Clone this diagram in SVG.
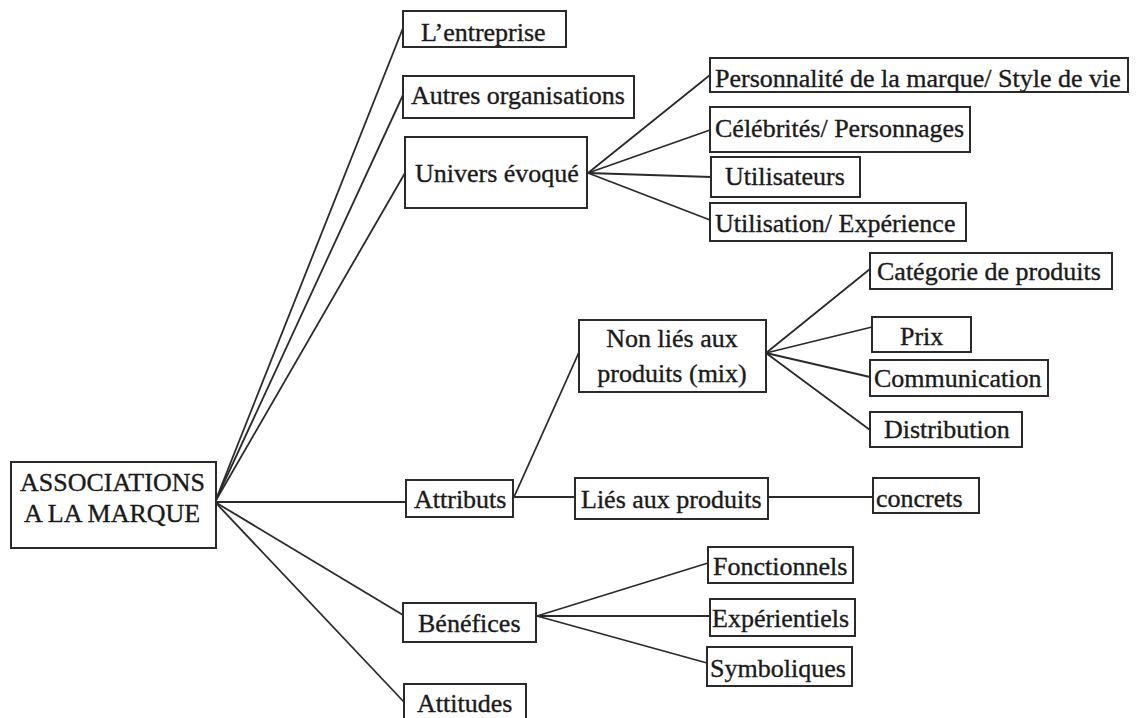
<svg xmlns="http://www.w3.org/2000/svg" width="1140" height="718" viewBox="0 0 1140 718">
<style>
.b{fill:#fff;stroke:#2a2a2a;stroke-width:2}
.t{font-family:"Liberation Serif","Times New Roman",serif;font-size:26px;fill:#1a1a1a;stroke:#1a1a1a;stroke-width:0.35}
.c{text-anchor:middle}
#connectors line{stroke:#2a2a2a;stroke-width:1.8}
</style>
<rect width="1140" height="718" fill="#fff"/>
<g id="connectors">
<line x1="215" y1="502" x2="403" y2="28"/>
<line x1="215" y1="502" x2="403" y2="95"/>
<line x1="215" y1="502" x2="405" y2="173"/>
<line x1="215" y1="502" x2="406" y2="502"/>
<line x1="215" y1="502" x2="403" y2="615"/>
<line x1="215" y1="502" x2="404" y2="702"/>
<line x1="588" y1="173" x2="710" y2="75"/>
<line x1="588" y1="173" x2="710" y2="130"/>
<line x1="588" y1="173" x2="711" y2="177"/>
<line x1="588" y1="173" x2="710" y2="220"/>
<line x1="514" y1="497" x2="580" y2="350"/>
<line x1="514" y1="497" x2="575" y2="497"/>
<line x1="766" y1="353" x2="870" y2="269"/>
<line x1="766" y1="353" x2="872" y2="327"/>
<line x1="766" y1="353" x2="870" y2="377"/>
<line x1="766" y1="353" x2="870" y2="430"/>
<line x1="768" y1="497" x2="873" y2="497"/>
<line x1="537" y1="616" x2="708" y2="563"/>
<line x1="537" y1="616" x2="710" y2="616"/>
<line x1="537" y1="616" x2="707" y2="663"/>
</g>
<g id="n-root"><rect class="b" x="11" y="462" width="205" height="86"/><text class="t" x="20" y="491">ASSOCIATIONS</text><text class="t" x="24" y="522">A LA MARQUE</text></g>
<g id="n-entreprise"><rect class="b" x="403" y="11" width="163" height="36"/><text class="t" x="421" y="41">L’entreprise</text></g>
<g id="n-autres"><rect class="b" x="403" y="76" width="231" height="42"/><text class="t" x="411" y="104">Autres organisations</text></g>
<g id="n-univers"><rect class="b" x="405" y="137" width="182" height="71"/><text class="t" x="415" y="182">Univers évoqué</text></g>
<g id="n-personnalite"><rect class="b" x="710" y="58" width="418" height="34"/><text class="t" x="715" y="87">Personnalité de la marque/ Style de vie</text></g>
<g id="n-celebrites"><rect class="b" x="710" y="107" width="260" height="45"/><text class="t" x="715" y="137">Célébrités/ Personnages</text></g>
<g id="n-utilisateurs"><rect class="b" x="711" y="157" width="149" height="40"/><text class="t" x="725" y="185">Utilisateurs</text></g>
<g id="n-utilisation"><rect class="b" x="710" y="203" width="256" height="38"/><text class="t" x="715" y="232">Utilisation/ Expérience</text></g>
<g id="n-attributs"><rect class="b" x="406" y="480" width="107" height="37"/><text class="t" x="414" y="508">Attributs</text></g>
<g id="n-nonlies"><rect class="b" x="579" y="320" width="187" height="72"/><text class="t c" x="672" y="347">Non liés aux</text><text class="t c" x="672" y="382">produits (mix)</text></g>
<g id="n-lies"><rect class="b" x="575" y="478" width="193" height="41"/><text class="t" x="581" y="508">Liés aux produits</text></g>
<g id="n-categorie"><rect class="b" x="870" y="253" width="242" height="36"/><text class="t" x="877" y="280">Catégorie de produits</text></g>
<g id="n-prix"><rect class="b" x="872" y="317" width="99" height="35"/><text class="t" x="900" y="345">Prix</text></g>
<g id="n-communication"><rect class="b" x="870" y="360" width="178" height="36"/><text class="t" x="874" y="387">Communication</text></g>
<g id="n-distribution"><rect class="b" x="870" y="412" width="152" height="35"/><text class="t" x="884" y="438">Distribution</text></g>
<g id="n-concrets"><rect class="b" x="873" y="478" width="106" height="35"/><text class="t" x="876" y="507">concrets</text></g>
<g id="n-benefices"><rect class="b" x="403" y="603" width="133" height="39"/><text class="t" x="418" y="632">Bénéfices</text></g>
<g id="n-fonctionnels"><rect class="b" x="708" y="547" width="145" height="36"/><text class="t" x="713" y="575">Fonctionnels</text></g>
<g id="n-experientiels"><rect class="b" x="710" y="599" width="145" height="37"/><text class="t" x="712" y="627">Expérientiels</text></g>
<g id="n-symboliques"><rect class="b" x="707" y="647" width="145" height="39"/><text class="t" x="710" y="677">Symboliques</text></g>
<g id="n-attitudes"><rect class="b" x="404" y="684" width="122" height="40"/><text class="t" x="417" y="712">Attitudes</text></g>
</svg>
